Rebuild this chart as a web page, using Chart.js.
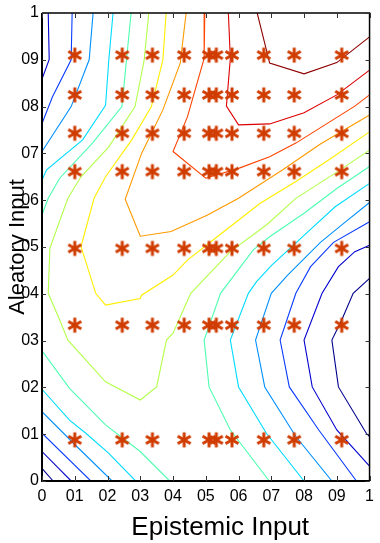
<!DOCTYPE html>
<html>
<head>
<meta charset="utf-8">
<script src="https://cdn.jsdelivr.net/npm/chart.js@4.4.1/dist/chart.umd.min.js"></script>
<style>
  html, body { margin: 0; padding: 0; background: #fff; }
  canvas { display: block; }
</style>
</head>
<body>
<canvas id="contourChart" width="380" height="543"></canvas>
<script>
// sample grid (asterisks)
const sampleX = [0.1, 0.245, 0.337, 0.434, 0.51, 0.532, 0.58, 0.677, 0.77, 0.915];
const sampleY = [0.088, 0.333, 0.497, 0.661, 0.743, 0.825, 0.91];

const tickValues = [0, 0.1, 0.2, 0.3, 0.4, 0.5, 0.6, 0.7, 0.8, 0.9, 1];
const tickLabels = ['0', '01', '02', '03', '04', '05', '06', '07', '08', '09', '1'];

// contour line colours, low -> high (jet)
const levelColors = ['#00008f', '#0000d0', '#0a3cff', '#0090ff', '#00dcff', '#4cffb0',
                     '#b4ff4a', '#ffee00', '#ff9a00', '#ff4400', '#dd0000', '#8f0000'];

// contour lines, [x, y]
const lvl1BottomLeft = [[0, 0.027], [0.034, 0]];
const lvl1Right = [[1, 0.433], [0.95, 0.401], [0.915, 0.344], [0.885, 0.301], [0.905, 0.201], [0.99, 0.102], [1, 0.095]];

const lvl2TopLeft = [[0.019, 1], [0.022, 0.901], [0, 0.859]];
const lvl2BottomLeft = [[0, 0.063], [0.089, 0]];
const lvl2Right = [[1, 0.032], [0.9, 0.109], [0.825, 0.201], [0.8, 0.301], [0.855, 0.401], [0.905, 0.458], [0.955, 0.49], [1, 0.504]];

const lvl3TopLeft = [[0.092, 1], [0.089, 0.9], [0.032, 0.821], [0, 0.764]];
const lvl3BottomLeft = [[0, 0.102], [0.149, 0]];
const lvl3Right = [[0.96, 0], [0.845, 0.109], [0.755, 0.201], [0.727, 0.301], [0.775, 0.401], [0.82, 0.458], [0.89, 0.51], [1, 0.554]];

const lvl4TopLeft = [[0.156, 1], [0.144, 0.9], [0.089, 0.8], [0, 0.704]];
const lvl4BottomLeft = [[0, 0.148], [0.1, 0.078], [0.214, 0]];
const lvl4Right = [[0.885, 0], [0.775, 0.095], [0.68, 0.201], [0.652, 0.301], [0.7, 0.401], [0.75, 0.44], [0.85, 0.51], [0.92, 0.55], [1, 0.595]];

const lvl5TopLeft = [[0.217, 1], [0.204, 0.9], [0.194, 0.803], [0.124, 0.729], [0.014, 0.665], [0, 0.643]];
const lvl5BottomLeft = [[0, 0.196], [0.084, 0.13], [0.134, 0.102], [0.204, 0.059], [0.286, 0]];
const lvl5Right = [[0.8, 0], [0.685, 0.102], [0.6, 0.201], [0.575, 0.301], [0.63, 0.401], [0.655, 0.426], [0.7, 0.46], [0.8, 0.525], [0.895, 0.586], [1, 0.636]];

const lvl6TopLeft = [[0.272, 1], [0.257, 0.893], [0.244, 0.8], [0.154, 0.722], [0.054, 0.647], [0.019, 0.604], [0, 0.568]];
const lvl6BottomLeft = [[0, 0.278], [0.084, 0.198], [0.194, 0.12], [0.3, 0.063], [0.39, 0]];
const lvl6Right = [[0.694, 0], [0.575, 0.109], [0.51, 0.201], [0.495, 0.301], [0.545, 0.401], [0.645, 0.494], [0.695, 0.522], [0.8, 0.572], [0.9, 0.625], [1, 0.672]];

const lvl7 = [[0.326, 1], [0.312, 0.9], [0.284, 0.8], [0.204, 0.714], [0.119, 0.65], [0.079, 0.604], [0.024, 0.497],
              [0.019, 0.401], [0.054, 0.344], [0.079, 0.301], [0.194, 0.212], [0.3, 0.173], [0.35, 0.201], [0.38, 0.301],
              [0.4, 0.316], [0.454, 0.401], [0.575, 0.49], [0.685, 0.547], [0.775, 0.604], [0.9, 0.66], [1, 0.707]];

const lvl8 = [[0.379, 1], [0.369, 0.9], [0.334, 0.8], [0.274, 0.729], [0.194, 0.65], [0.159, 0.604], [0.119, 0.501],
              [0.164, 0.401], [0.194, 0.376], [0.3, 0.39], [0.304, 0.397], [0.4, 0.44], [0.444, 0.472], [0.535, 0.522],
              [0.665, 0.593], [0.775, 0.64], [0.875, 0.686], [1, 0.746]];

const lvl9 = [[0.44, 1], [0.422, 0.893], [0.369, 0.793], [0.304, 0.7], [0.254, 0.602], [0.3, 0.523], [0.394, 0.533],
              [0.504, 0.568], [0.6, 0.604], [0.735, 0.665], [0.85, 0.72], [1, 0.782]];

const lvl10 = [[0.497, 1], [0.495, 0.903], [0.444, 0.778], [0.4, 0.704], [0.5, 0.647], [0.6, 0.668], [0.695, 0.693],
               [0.775, 0.722], [0.955, 0.801], [1, 0.825]];

const lvl11 = [[0.569, 1], [0.575, 0.903], [0.563, 0.801], [0.6, 0.761], [0.695, 0.763], [0.8, 0.787], [0.9, 0.825], [1, 0.878]];

const lvl12 = [[0.657, 1], [0.695, 0.893], [0.8, 0.87], [0.9, 0.894], [1, 0.949]];

// [level index, line]
const contourLines = [
    [0, lvl1BottomLeft], [0, lvl1Right],
    [1, lvl2TopLeft], [1, lvl2BottomLeft], [1, lvl2Right],
    [2, lvl3TopLeft], [2, lvl3BottomLeft], [2, lvl3Right],
    [3, lvl4TopLeft], [3, lvl4BottomLeft], [3, lvl4Right],
    [4, lvl5TopLeft], [4, lvl5BottomLeft], [4, lvl5Right],
    [5, lvl6TopLeft], [5, lvl6BottomLeft], [5, lvl6Right],
    [6, lvl7], [7, lvl8], [8, lvl9], [9, lvl10], [10, lvl11], [11, lvl12]
];

// asterisk marker drawn once on a small canvas
function makeAsterisk(color) {
    const c = document.createElement('canvas');
    c.width = 18;
    c.height = 18;
    const g = c.getContext('2d');
    g.strokeStyle = color;
    g.lineWidth = 3;
    g.lineCap = 'butt';
    g.translate(9, 9);
    for (let k = 0; k < 3; k++) {
        const ang = Math.PI / 2 + k * Math.PI / 3;
        g.beginPath();
        g.moveTo(Math.cos(ang) * 7.5, Math.sin(ang) * 7.5);
        g.lineTo(-Math.cos(ang) * 7.5, -Math.sin(ang) * 7.5);
        g.stroke();
    }
    return c;
}

const samplePoints = [];
sampleY.forEach(y => sampleX.forEach(x => samplePoints.push({ x: x, y: y })));

const datasets = [{
    label: 'samples',
    data: samplePoints,
    showLine: false,
    pointStyle: makeAsterisk('#d03c00'),
    pointRadius: 9
}];

contourLines.forEach(([lvl, pts]) => {
    datasets.push({
        label: 'level ' + (lvl + 1),
        data: pts.map(p => ({ x: p[0], y: p[1] })),
        showLine: true,
        borderColor: levelColors[lvl],
        borderWidth: 1.1,
        pointRadius: 0,
        fill: false,
        tension: 0
    });
});

// MATLAB-like box with inward ticks on all four sides
const axesBox = {
    id: 'axesBox',
    afterDatasetsDraw(chart) {
        const { ctx, chartArea: a, scales: { x, y } } = chart;
        ctx.save();
        ctx.strokeStyle = '#000';
        ctx.lineWidth = 1.5;
        ctx.beginPath();
        ctx.moveTo(a.left, a.top);
        ctx.lineTo(a.right, a.top);
        ctx.lineTo(a.right, a.bottom);
        ctx.stroke();
        ctx.lineWidth = 2;
        ctx.beginPath();
        ctx.moveTo(a.left, a.top);
        ctx.lineTo(a.left, a.bottom);
        ctx.lineTo(a.right, a.bottom);
        ctx.stroke();

        ctx.strokeStyle = '#333';
        ctx.lineWidth = 1;
        ctx.beginPath();
        tickValues.forEach(v => {
            const px = Math.round(x.getPixelForValue(v)) + 0.5;
            ctx.moveTo(px, a.bottom);
            ctx.lineTo(px, a.bottom - 5);
            ctx.moveTo(px, a.top);
            ctx.lineTo(px, a.top + 5);
            const py = Math.round(y.getPixelForValue(v)) + 0.5;
            ctx.moveTo(a.left, py);
            ctx.lineTo(a.left + 4, py);
            ctx.moveTo(a.right, py);
            ctx.lineTo(a.right - 4, py);
        });
        ctx.stroke();
        ctx.restore();
    }
};

const tickFont = { family: "'Liberation Sans Narrow', 'Liberation Sans', Arial, sans-serif", size: 16 };

new Chart(document.getElementById('contourChart').getContext('2d'), {
    type: 'scatter',
    data: { datasets: datasets },
    options: {
        responsive: false,
        animation: false,
        layout: { padding: { top: 13, right: 5, left: 0, bottom: 0 } },
        plugins: {
            legend: { display: false },
            tooltip: { enabled: false }
        },
        scales: {
            x: {
                type: 'linear',
                min: 0,
                max: 1,
                afterBuildTicks: s => { s.ticks = tickValues.map(v => ({ value: v })); },
                afterFit: s => { s.height = 62; },
                grid: { display: false, drawTicks: false },
                border: { display: false },
                ticks: {
                    color: '#000',
                    font: tickFont,
                    padding: 6,
                    maxRotation: 0,
                    autoSkip: false,
                    callback: (v) => tickLabels[Math.round(v * 10)]
                },
                title: {
                    display: true,
                    // leading spaces nudge the label right like in the picture
                    text: '    Epistemic Input',
                    color: '#000',
                    font: { family: "'Liberation Sans', Arial, sans-serif", size: 26 },
                    padding: { top: 0, bottom: 0 }
                }
            },
            y: {
                type: 'linear',
                min: 0,
                max: 1,
                afterBuildTicks: s => { s.ticks = tickValues.map(v => ({ value: v })); },
                afterFit: s => { s.width = 42; },
                grid: { display: false, drawTicks: false },
                border: { display: false },
                ticks: {
                    color: '#000',
                    font: tickFont,
                    padding: 3,
                    autoSkip: false,
                    callback: (v) => tickLabels[Math.round(v * 10)]
                },
                title: {
                    display: true,
                    text: 'Aleatory Input',
                    color: '#000',
                    font: { family: "'Liberation Sans', Arial, sans-serif", size: 22 },
                    padding: { top: 5, bottom: 0 }
                }
            }
        }
    },
    plugins: [axesBox]
});
</script>
</body>
</html>
